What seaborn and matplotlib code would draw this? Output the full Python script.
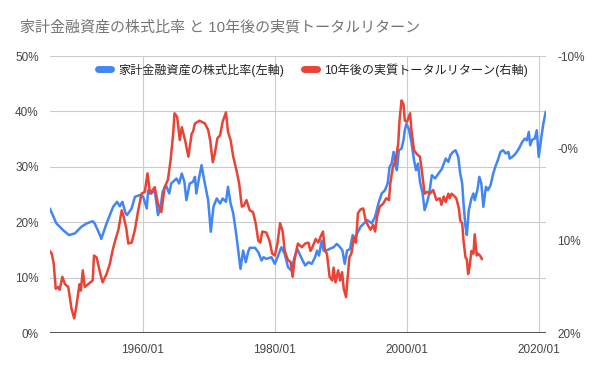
import matplotlib
matplotlib.use("Agg")
import matplotlib.pyplot as plt
from matplotlib.lines import Line2D
import seaborn as sns
import pandas as pd

# household financial assets: share held in equities (left axis, %)
blue_years = [1945.9, 1946.9, 1947.9, 1948.8, 1949.7, 1950.7, 1951.5, 1952.4, 1952.7, 1953.5,
              1953.7, 1954.5, 1955.0, 1955.5, 1956.1, 1956.5, 1956.9, 1957.4, 1957.6, 1958.3,
              1958.8, 1959.5, 1960.05, 1960.6, 1960.8, 1961.3, 1961.8, 1962.3, 1962.7, 1963.0,
              1963.5, 1964.0, 1964.3, 1965.1, 1965.5, 1965.9, 1966.3, 1966.6, 1967.1, 1967.6,
              1967.9, 1968.1, 1968.5, 1968.9, 1969.3, 1969.9, 1970.3, 1970.7, 1971.2, 1971.7,
              1972.1, 1972.6, 1972.9, 1973.3, 1973.7, 1974.1, 1974.4, 1974.8, 1975.2, 1975.6,
              1975.95, 1976.2, 1977.0, 1977.5, 1978.0, 1978.3, 1978.7, 1979.5, 1980.0, 1980.5,
              1981.0, 1981.5, 1982.0, 1982.5, 1983.0, 1983.4, 1984.1, 1984.6, 1985.1, 1985.6,
              1986.1, 1986.4, 1986.7, 1987.1, 1987.4, 1987.8, 1988.3, 1988.9, 1989.4, 1989.9,
              1990.25, 1990.6, 1990.95, 1991.4, 1991.8, 1992.1, 1992.6, 1993.0, 1993.5, 1994.0,
              1994.7, 1995.2, 1995.7, 1996.2, 1996.7, 1997.1, 1997.4, 1997.7, 1998.0, 1998.3,
              1998.5, 1998.8, 1999.2, 1999.5, 1999.7, 1999.95, 2000.3, 2000.7, 2001.1, 2001.4,
              2001.7, 2002.0, 2002.4, 2002.7, 2003.1, 2003.4, 2003.8, 2004.3, 2004.8, 2005.3,
              2005.9, 2006.3, 2006.6, 2007.0, 2007.4, 2007.8, 2008.1, 2008.4, 2008.6, 2008.9,
              2009.1, 2009.4, 2009.8, 2010.1, 2010.3, 2010.7, 2011.0, 2011.3, 2011.6, 2012.0,
              2012.3, 2012.7, 2013.1, 2013.5, 2013.8, 2014.2, 2014.6, 2015.0, 2015.4, 2015.6,
              2016.0, 2016.5, 2017.0, 2017.5, 2017.9, 2018.2, 2018.5, 2018.7, 2019.0, 2019.4,
              2019.7, 2020.0, 2020.4, 2020.7, 2021.05]
blue_share = [22.5, 19.8, 18.6, 17.7, 18.0, 19.2, 19.8, 20.2, 19.8, 17.7,
              17.0, 19.8, 21.3, 22.8, 23.7, 22.9, 23.7, 21.6, 21.3, 22.5,
              24.6, 24.9, 24.6, 22.5, 25.8, 25.2, 25.8, 21.3, 22.8, 25.5,
              26.7, 25.2, 27.0, 27.9, 27.0, 28.8, 27.3, 24.0, 27.0, 27.3,
              28.2, 25.2, 27.9, 30.3, 27.6, 24.0, 18.3, 22.8, 24.3, 23.4,
              24.3, 23.7, 26.4, 23.4, 21.6, 18.3, 15.5, 11.6, 14.9, 12.8,
              14.6, 15.4, 15.4, 14.6, 13.1, 13.7, 13.4, 13.7, 12.5, 14.0,
              15.5, 14.3, 11.9, 11.3, 13.7, 15.2, 13.4, 12.2, 12.8, 12.5,
              13.7, 14.9, 14.0, 16.7, 14.9, 14.9, 15.2, 15.5, 16.1, 15.5,
              14.9, 12.5, 14.9, 15.2, 17.7, 17.0, 18.3, 19.2, 19.8, 20.4,
              19.8, 21.0, 23.4, 25.2, 25.8, 27.0, 30.0, 30.6, 32.7, 30.3,
              29.4, 33.0, 33.3, 34.8, 36.6, 37.8, 36.9, 34.5, 31.2, 29.4,
              30.6, 27.3, 25.2, 22.2, 23.7, 25.2, 28.5, 27.9, 28.8, 29.6,
              31.5, 30.9, 32.1, 32.7, 33.0, 31.8, 28.8, 27.0, 23.4, 19.2,
              17.7, 22.2, 24.3, 25.2, 24.0, 25.8, 28.2, 27.0, 22.8, 26.4,
              25.8, 26.7, 28.8, 30.3, 31.2, 32.7, 33.0, 32.4, 32.7, 31.5,
              31.8, 32.4, 33.3, 34.5, 35.1, 34.8, 36.3, 33.9, 34.9, 35.1,
              36.6, 31.8, 35.4, 37.8, 39.9]

# real total return over the following 10 years (right axis, %, inverted)
red_years = [1945.9, 1946.2, 1946.5, 1946.8, 1947.2, 1947.4, 1947.8, 1948.2, 1948.7, 1949.2,
             1949.6, 1949.9, 1950.4, 1950.6, 1950.9, 1951.2, 1951.7, 1952.4, 1952.6, 1953.0,
             1953.5, 1953.9, 1954.5, 1955.0, 1955.4, 1955.8, 1956.3, 1956.8, 1957.1, 1957.5,
             1957.8, 1958.3, 1958.8, 1959.3, 1959.8, 1960.3, 1960.7, 1961.1, 1961.8, 1962.3,
             1962.8, 1963.3, 1963.8, 1964.2, 1964.6, 1964.8, 1965.2, 1965.6, 1965.9, 1966.4,
             1966.9, 1967.4, 1967.6, 1967.9, 1968.6, 1969.4, 1969.9, 1970.2, 1970.6, 1970.9,
             1971.3, 1971.7, 1972.1, 1972.6, 1972.9, 1973.3, 1973.7, 1974.2, 1974.6, 1975.0,
             1975.3, 1975.7, 1976.2, 1976.7, 1977.1, 1977.5, 1977.8, 1978.1, 1978.7, 1979.2,
             1979.6, 1980.0, 1980.4, 1980.8, 1981.2, 1981.5, 1982.0, 1982.4, 1982.7, 1983.0,
             1983.5, 1984.1, 1984.6, 1985.1, 1985.4, 1985.7, 1986.2, 1986.6, 1986.9, 1987.3,
             1987.6, 1987.9, 1988.3, 1988.7, 1988.9, 1989.2, 1989.6, 1989.9, 1990.2, 1990.45,
             1990.8, 1990.95, 1991.3, 1991.6, 1992.0, 1992.3, 1992.6, 1993.0, 1993.4, 1993.8,
             1994.1, 1994.5, 1994.9, 1995.2, 1995.5, 1995.9, 1996.4, 1996.9, 1997.3, 1997.5,
             1997.9, 1998.3, 1998.7, 1998.9, 1999.2, 1999.5, 1999.7, 2000.05, 2000.5, 2000.7,
             2001.1, 2001.5, 2002.0, 2002.4, 2002.7, 2003.1, 2003.5, 2004.0, 2004.5, 2005.0,
             2005.25, 2005.6, 2005.9, 2006.3, 2006.5, 2006.8, 2007.1, 2007.5, 2007.9, 2008.1,
             2008.4, 2008.6, 2008.9, 2009.1, 2009.3, 2009.5, 2009.8, 2010.1, 2010.3, 2010.6,
             2010.8, 2011.1, 2011.4]
red_return = [11.1, 11.4, 12.5, 15.2, 15.0, 15.3, 13.9, 14.7, 15.0, 17.4,
              18.4, 17.2, 14.7, 15.4, 13.2, 15.0, 14.7, 14.3, 11.6, 11.8,
              13.4, 14.5, 13.6, 12.5, 11.1, 10.0, 8.8, 6.7, 7.4, 8.7,
              10.3, 10.2, 8.8, 6.7, 4.9, 4.7, 2.7, 4.9, 4.2, 6.0,
              6.9, 4.2, 3.4, 1.3, -1.6, -3.8, -3.4, -0.9, -2.3, -0.9,
              0.9, -1.6, -1.8, -2.7, -3.0, -2.7, -2.0, -0.9, 1.5, 0.6,
              -1.1, -1.4, -2.9, -3.9, -1.8, -0.9, 0.9, 2.4, 3.8, 6.3,
              6.2, 5.6, 6.7, 6.9, 8.1, 10.0, 10.2, 9.0, 9.1, 10.0,
              11.4, 11.6, 10.3, 8.1, 9.0, 11.1, 12.1, 12.3, 13.9, 12.0,
              10.3, 10.7, 10.3, 10.2, 11.1, 10.7, 9.8, 10.2, 9.6, 9.0,
              11.1, 11.4, 13.9, 14.3, 12.9, 14.5, 13.2, 14.3, 13.4, 15.2,
              16.1, 14.7, 11.8, 11.4, 9.6, 10.2, 7.0, 6.6, 6.5, 7.9,
              8.3, 8.8, 8.3, 9.0, 7.4, 6.3, 6.0, 5.4, 5.6, 3.8,
              2.0, 1.3, -0.5, -3.0, -5.2, -4.8, -3.0, -2.9, -3.8, -2.0,
              0.2, 0.6, 0.9, 3.1, 4.9, 4.7, 4.9, 4.5, 5.6, 5.4,
              6.1, 5.2, 5.8, 4.9, 5.4, 4.9, 5.1, 5.4, 6.5, 7.8,
              8.1, 10.0, 11.8, 12.0, 13.6, 12.9, 11.1, 11.4, 9.3, 11.6,
              11.4, 11.6, 12.0]

x_ticks = [1960, 1980, 2000, 2020]
x_labels = ["1960/01", "1980/01", "2000/01", "2020/01"]
left_ticks = [0, 10, 20, 30, 40, 50]
left_labels = ["0%", "10%", "20%", "30%", "40%", "50%"]
right_ticks = [-10, 0, 10, 20]
right_labels = ["-10%", "-0%", "10%", "20%"]

title = "家計金融資産の株式比率 と 10年後の実質トータルリターン"
blue_name = "家計金融資産の株式比率(左軸)"
red_name = "10年後の実質トータルリターン(右軸)"

BLUE = "#4285F4"
RED = "#EA4335"

sns.set_style("white")
plt.rcParams["font.family"] = ["Liberation Sans", "Noto Sans CJK JP", "DejaVu Sans"]

df_blue = pd.DataFrame({"year": blue_years, "share": blue_share})
df_red = pd.DataFrame({"year": red_years, "ret": red_return})

fig = plt.figure(figsize=(6, 3.71), dpi=100)
ax = fig.add_axes([0.083, 0.102, 0.827, 0.747])
ax2 = ax.twinx()

sns.lineplot(data=df_blue, x="year", y="share", ax=ax, color=BLUE, linewidth=1.8,
             estimator=None, sort=False)
sns.lineplot(data=df_red, x="year", y="ret", ax=ax2, color=RED, linewidth=1.8,
             estimator=None, sort=False)

ax.set_xlim(1945.9, 2021.1)
ax.set_ylim(0, 50)
ax2.set_ylim(20, -10)

ax.set_xticks(x_ticks)
ax.set_xticklabels(x_labels)
ax.set_yticks(left_ticks)
ax.set_yticklabels(left_labels)
ax2.set_yticks(right_ticks)
ax2.set_yticklabels(right_labels)

ax.grid(True, color="#cccccc", linewidth=0.8)
ax.set_axisbelow(True)
ax2.grid(False)

for a in (ax, ax2):
    for s in ("top", "left", "right", "bottom"):
        a.spines[s].set_visible(False)
    a.set_xlabel("")
    a.set_ylabel("")
ax.axhline(0, color="#333333", linewidth=1.2, zorder=5)

ax.tick_params(axis="x", length=0, labelsize=8.5, labelcolor="#444444", pad=8)
ax.tick_params(axis="y", length=0, labelsize=8.5, labelcolor="#444444", pad=8)
ax2.tick_params(axis="y", length=0, labelsize=8.5, labelcolor="#444444", pad=8)

handles = [Line2D([0], [0], color=BLUE, linewidth=5),
           Line2D([0], [0], color=RED, linewidth=5)]
ax.legend(handles, [blue_name, red_name], loc="center", bbox_to_anchor=(0.53, 0.95),
          ncol=2, frameon=False, fontsize=8.7, handlelength=1.1, columnspacing=1.6,
          handletextpad=0.6, labelcolor="#222222")

fig.text(0.033, 0.925, title, fontsize=10.8, color="#757575", ha="left", va="center")

fig.savefig("out.png", dpi=100)
